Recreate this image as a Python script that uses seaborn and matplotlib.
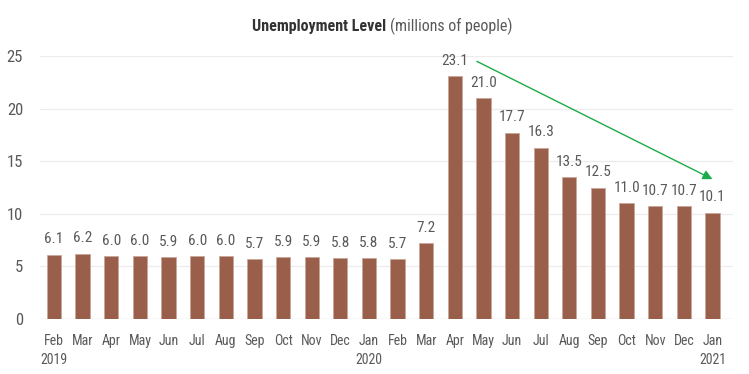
import matplotlib
matplotlib.use("Agg")
import matplotlib.pyplot as plt
import seaborn as sns
import pandas as pd

# data
months = ['2019-02', '2019-03', '2019-04', '2019-05', '2019-06', '2019-07', '2019-08',
          '2019-09', '2019-10', '2019-11', '2019-12', '2020-01', '2020-02', '2020-03',
          '2020-04', '2020-05', '2020-06', '2020-07', '2020-08', '2020-09', '2020-10',
          '2020-11', '2020-12', '2021-01']
tick_labels = ['Feb\n2019', 'Mar', 'Apr', 'May', 'Jun', 'Jul', 'Aug', 'Sep', 'Oct', 'Nov',
               'Dec', 'Jan\n2020', 'Feb', 'Mar', 'Apr', 'May', 'Jun', 'Jul', 'Aug', 'Sep',
               'Oct', 'Nov', 'Dec', 'Jan\n2021']
unemployed = [6.1, 6.2, 6.0, 6.0, 5.9, 6.0, 6.0, 5.7, 5.9, 5.9, 5.8, 5.8, 5.7, 7.2,
              23.1, 21.0, 17.7, 16.3, 13.5, 12.5, 11.0, 10.7, 10.7, 10.1]

df = pd.DataFrame({'Month': months, 'Level': unemployed})

sns.set_style('white')
plt.rcParams['font.family'] = ['Roboto Condensed', 'Roboto', 'DejaVu Sans']

fig, ax = plt.subplots(figsize=(7.49, 3.74), dpi=100)
fig.subplots_adjust(left=0.053, right=0.978, bottom=0.147, top=0.85)

bar_col = '#995f4a'
sns.barplot(data=df, x='Month', y='Level', color=bar_col, width=0.5,
            edgecolor='#c9a79a', linewidth=0.6, saturation=1, ax=ax, zorder=3)

txt_col = '#595959'
for i, v in enumerate(unemployed):
    ax.text(i, v + 0.8, f'{v:.1f}', ha='center', va='bottom', fontsize=11, color=txt_col)

# trend arrow from the April peak to January
ax.annotate('', xy=(23, 13.3), xytext=(14.77, 24.5),
            arrowprops=dict(arrowstyle='-|>', color='#1aab4b', lw=1.0,
                            mutation_scale=14, shrinkA=0, shrinkB=0))

ax.set_ylim(0, 25)
ax.set_xlim(-0.5, 23.7)
ax.set_yticks([0, 5, 10, 15, 20, 25])
ax.set_xticks(range(len(tick_labels)))
ax.set_xticklabels(tick_labels, fontsize=10, color=txt_col, linespacing=1.45)
ax.tick_params(axis='y', labelsize=12, labelcolor=txt_col, length=0, pad=12)
ax.tick_params(axis='x', length=0, pad=11)
for lbl in ax.get_xticklabels():
    lbl.set_verticalalignment('top')
ax.set_xlabel('')
ax.set_ylabel('')
ax.grid(axis='y', color='#ececec', linewidth=0.9, zorder=0)
sns.despine(ax=ax, left=True, bottom=True)
ax.axhline(0, color='#e3e3e3', linewidth=0.9, zorder=2)

fig.text(0.516, 0.93, 'Unemployment Level', ha='right', va='center',
         fontsize=11.5, fontweight='bold', color='#333333')
fig.text(0.521, 0.93, '(millions of people)', ha='left', va='center',
         fontsize=11.5, color='#595959')

fig.savefig('out.png', dpi=100)
